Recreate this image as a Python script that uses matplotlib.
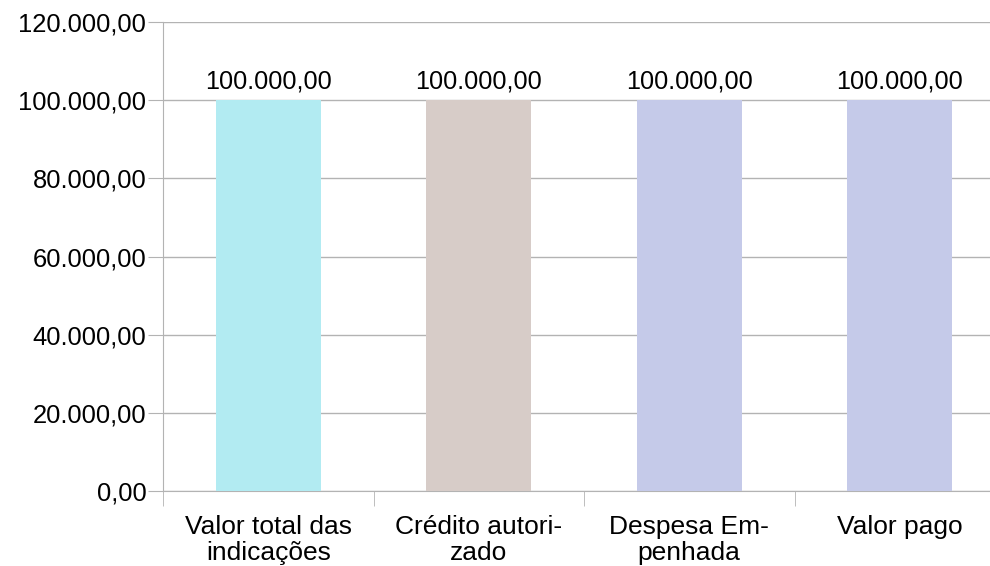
import matplotlib
matplotlib.use("Agg")
import matplotlib.pyplot as plt
from matplotlib.ticker import FuncFormatter

categories = ["Valor total das\nindicações", "Crédito autori-\nzado", "Despesa Em-\npenhada", "Valor pago"]
values = [100000.00, 100000.00, 100000.00, 100000.00]
colors = ["#b2ebf2", "#d7ccc8", "#c5cae9", "#c5cae9"]
yticks = [0, 20000, 40000, 60000, 80000, 100000, 120000]

plt.rcParams['font.family'] = ['Liberation Sans', 'DejaVu Sans']

def br(v):
    s = f"{v:,.2f}"
    return s.replace(",", "X").replace(".", ",").replace("X", ".")

fig = plt.figure(figsize=(9.9, 5.66), dpi=100)
ax = fig.add_axes([163/990, 1-491/566, (1005-163)/990, (491-22)/566])

x = list(range(len(categories)))
bars = ax.bar(x, values, width=0.5, color=colors, zorder=3)
for xi, v in zip(x, values):
    ax.text(xi, v + 1800, br(v), ha='center', va='bottom', fontsize=18.2, color='black')

ax.set_xlim(-0.5, len(categories) - 0.5)
ax.set_ylim(0, 120000)
ax.set_yticks(yticks)
ax.yaxis.set_major_formatter(FuncFormatter(lambda v, p: br(v)))
ax.set_xticks(x)
ax.set_xticklabels(categories, fontsize=19, linespacing=1.1)
ax.set_xticks([i - 0.5 for i in range(len(categories) + 1)], minor=True)
ax.tick_params(axis='x', which='major', length=0, pad=17)
ax.tick_params(axis='x', which='minor', length=11, color='#b3b3b3')
ax.tick_params(axis='y', length=11, color='#b3b3b3', labelsize=18.4, pad=1)
ax.grid(axis='y', color='#b3b3b3', linewidth=1, zorder=0)
for s in ['top', 'right']:
    ax.spines[s].set_visible(False)
for s in ['left', 'bottom']:
    ax.spines[s].set_color('#b3b3b3')

fig.savefig("out.png", dpi=100)
